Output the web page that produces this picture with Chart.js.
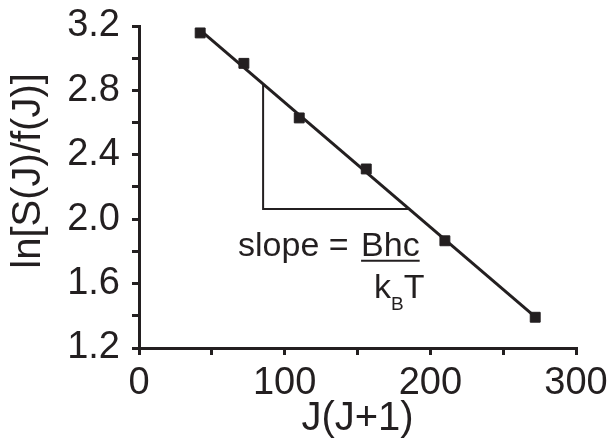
<!DOCTYPE html>
<html>
<head>
<meta charset="utf-8">
<script src="https://cdn.jsdelivr.net/npm/chart.js@4.4.1/dist/chart.umd.min.js"></script>
<style>
  body { margin: 0; background: #fff; }
  #wrap { width: 612px; height: 443px; }
</style>
</head>
<body>
<div id="wrap"><canvas id="chart"></canvas></div>
<script>
// J(J+1) against ln[S(J)/f(J)]
var jj = [42, 72, 110, 156, 210, 272];
var lnS = [3.157, 2.968, 2.629, 2.312, 1.866, 1.391];
// straight fit line, end points
var fitX = [42, 272];
var fitY = [3.174, 1.393];
// slope triangle
var triX = [85.2, 85.2, 185.5];
var triY = [2.84, 2.063, 2.063];
var xTicks = [0, 100, 200, 300];
var yTicks = [1.2, 1.6, 2.0, 2.4, 2.8, 3.2];

var ink = '#231f20';
var face = '"Liberation Sans", Arial, sans-serif';

function pts(xs, ys) {
  return xs.map(function (x, i) { return { x: x, y: ys[i] }; });
}

function hasTick(list, v) {
  return list.some(function (t) { return Math.abs(t - v) < 1e-6; });
}

// y title a bit above centre, and the "slope = Bhc / kBT" text
var labels = {
  id: 'labels',
  afterDraw: function (chart) {
    var ctx = chart.ctx;
    var ys = chart.scales.y;
    ctx.save();
    ctx.fillStyle = ink;
    ctx.strokeStyle = ink;

    ctx.save();
    ctx.translate(29, ys.getPixelForValue(2.3));
    ctx.rotate(-Math.PI / 2);
    ctx.font = '40px ' + face;
    ctx.textAlign = 'center';
    ctx.textBaseline = 'middle';
    ctx.fillText('ln[S(J)/f(J)]', 0, 0);
    ctx.restore();

    var x0 = chart.scales.x.getPixelForValue(68);
    var base = ys.getPixelForValue(1.773);
    ctx.textBaseline = 'alphabetic';
    ctx.textAlign = 'left';
    ctx.font = '34px ' + face;
    ctx.fillText('slope = ', x0, base);
    var bx = x0 + ctx.measureText('slope = ').width + 3;
    ctx.fillText('Bhc', bx, base);
    var bw = ctx.measureText('Bhc').width;
    ctx.lineWidth = 2;
    ctx.beginPath();
    ctx.moveTo(bx, base + 5);
    ctx.lineTo(bx + bw, base + 5);
    ctx.stroke();
    var kx = bx + 13, kb = base + 42;
    ctx.fillText('k', kx, kb);
    var sx = kx + ctx.measureText('k').width;
    ctx.font = '19px ' + face;
    ctx.fillText('B', sx, kb + 12);
    var tx = sx + ctx.measureText('B').width;
    ctx.font = '34px ' + face;
    ctx.fillText('T', tx, kb);
    ctx.restore();
  }
};

new Chart(document.getElementById('chart'), {
  type: 'scatter',
  data: {
    datasets: [
      { data: pts(triX, triY), showLine: true, borderColor: ink, borderWidth: 2, pointRadius: 0, tension: 0 },
      { data: pts(fitX, fitY), showLine: true, borderColor: ink, borderWidth: 3, pointRadius: 0 },
      { data: pts(jj, lnS), pointStyle: 'rect', pointRadius: 7, backgroundColor: ink, borderColor: ink, borderWidth: 1 }
    ]
  },
  options: {
    responsive: true,
    maintainAspectRatio: false,
    animation: false,
    layout: { padding: { top: 26, right: 36, bottom: 0, left: 0 } },
    plugins: { legend: { display: false }, tooltip: { enabled: false } },
    scales: {
      x: {
        type: 'linear', min: 0, max: 300,
        afterFit: function (s) { s.height = 95; s.paddingLeft = 0; s.paddingRight = 0; },
        border: { display: true, color: ink, width: 3 },
        grid: { drawOnChartArea: false, drawTicks: true, tickLength: 7, color: ink, lineWidth: 3 },
        ticks: {
          stepSize: 50, autoSkip: false, maxRotation: 0, color: ink, padding: 6,
          font: { family: face, size: 38 },
          callback: function (v) { return hasTick(xTicks, v) ? String(Math.round(v)) : ''; }
        },
        title: { display: true, text: 'J(J+1)', color: ink, font: { family: face, size: 40 }, padding: 0 }
      },
      y: {
        type: 'linear', min: 1.2, max: 3.2,
        afterFit: function (s) { s.width = 139; s.paddingTop = 0; s.paddingBottom = 0; },
        border: { display: true, color: ink, width: 3 },
        grid: { drawOnChartArea: false, drawTicks: true, tickLength: 7, color: ink, lineWidth: 3 },
        ticks: {
          stepSize: 0.2, autoSkip: false, color: ink, padding: 12,
          font: { family: face, size: 38 },
          callback: function (v) { return hasTick(yTicks, v) ? v.toFixed(1) : ''; }
        },
        title: { display: false }
      }
    }
  },
  plugins: [labels]
});
</script>
</body>
</html>
